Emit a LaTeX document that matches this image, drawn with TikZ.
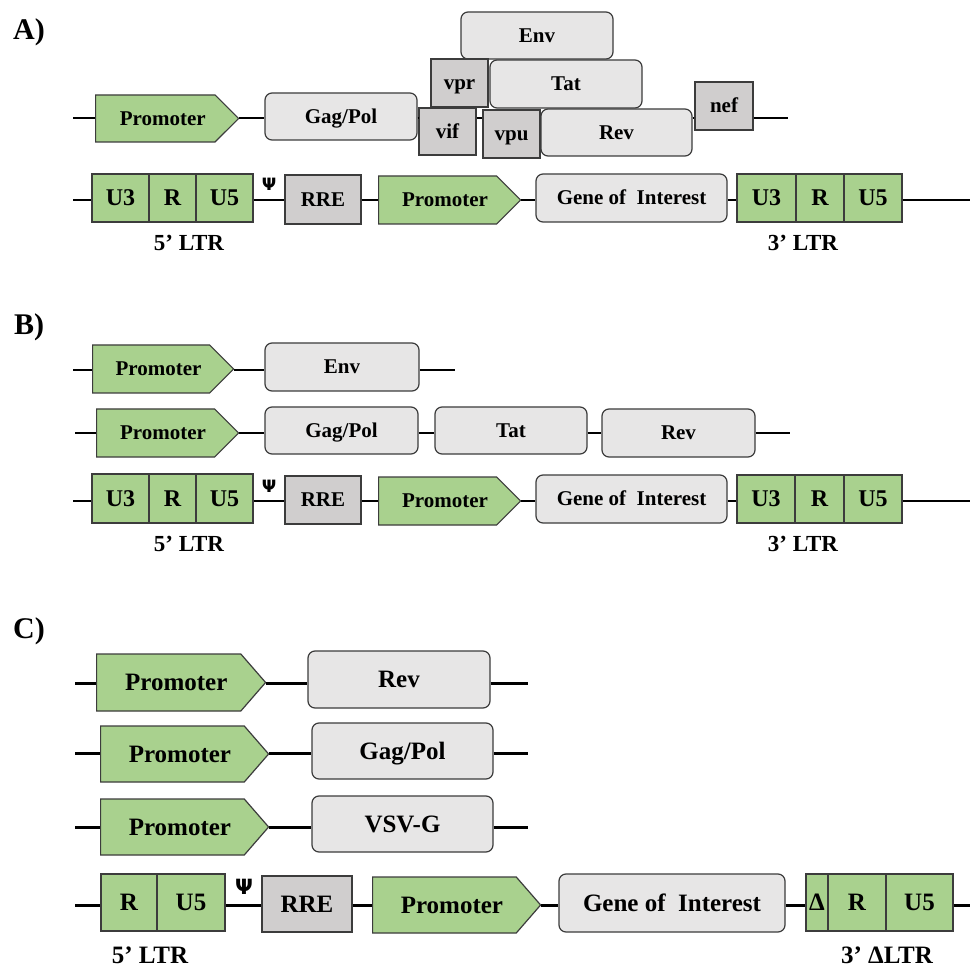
\documentclass[tikz,border=0pt]{standalone}
\usepackage{fontspec}
\setmainfont{Liberation Serif}
\newfontfamily\psifont{DejaVu Sans}
\usetikzlibrary{shapes.symbols}
\definecolor{grn}{HTML}{A9D18E}
\definecolor{lgr}{HTML}{E7E6E6}
\definecolor{dgr}{HTML}{D0CECE}
\definecolor{edgec}{HTML}{3C3C3C}
\tikzset{
  sz/.style 2 args={minimum width=#1pt, minimum height=#2pt},
  box/.style={draw=edgec, line width=1.2pt, inner sep=0pt, text height=13.9pt, text depth=0pt,
              font=\bfseries\fontsize{21}{24}\selectfont},
  gene/.style={box, fill=lgr, rounded corners=7pt},
  acc/.style={box, fill=dgr},
  ltr/.style={box, fill=grn, text height=15.8pt, font=\bfseries\fontsize{24}{26}\selectfont},
  promo/.style={box, fill=grn, signal, signal to=east, signal from=nowhere, signal pointer angle=90,
                execute at begin node={\hspace{15pt}}},
  big/.style={text height=16.5pt, font=\bfseries\fontsize{25}{28}\selectfont},
  dna/.style={line width=2.5pt, black},
  dnab/.style={line width=3pt, black},
  lab/.style={inner sep=0pt, font=\bfseries\fontsize{23}{26}\selectfont},
  labc/.style={inner sep=0pt, font=\bfseries\fontsize{25}{28}\selectfont},
  panel/.style={inner sep=0pt, font=\bfseries\fontsize{30}{32}\selectfont},
  psi/.style={inner sep=0pt, font=\psifont\bfseries\fontsize{17}{18}\selectfont},
  psic/.style={inner sep=0pt, font=\psifont\bfseries\fontsize{21}{22}\selectfont},
}
\begin{document}
\begin{tikzpicture}[x=1pt,y=-1pt]
\useasboundingbox (0,0) rectangle (970,968);
\fill[white] (0,0) rectangle (970,968);

% ---------------- Panel A ----------------
\node[panel] (labA) at (29,32) {A)};
% row 1
\coordinate (a1s) at (73,118);
\coordinate (a1e) at (788,118);
\node[promo, sz={143}{47}, anchor=west] (pA1) at (95,118.5) {Promoter};
\node[gene, sz={152}{47}] (gagA) at (341,116.5) {Gag/Pol};
\node[gene, sz={152}{47}] (envA) at (537,35.5) {Env};
\node[acc, sz={57}{48}] (vprA) at (459.5,83) {vpr};
\node[gene, sz={152}{48}] (tatA) at (566,84) {Tat};
\node[acc, sz={57}{47}] (vifA) at (447.5,131.5) {vif};
\node[acc, sz={57}{48}] (vpuA) at (511.5,134) {vpu};
\node[gene, sz={151}{47}] (revA) at (616.5,132.5) {Rev};
\node[acc, sz={58}{48}] (nefA) at (724,106) {nef};
\draw[dna] (a1s) -- (pA1.west |- a1s);
\draw[dna] (pA1.east |- a1s) -- (gagA.west |- a1s);
\draw[dna] (gagA.east |- a1s) -- (vifA.west |- a1s);
\draw[dna] (vifA.east |- a1s) -- (vpuA.west |- a1s);
\draw[dna] (revA.east |- a1s) -- (nefA.west |- a1s);
\draw[dna] (nefA.east |- a1s) -- (a1e);
% row 2
\coordinate (a2s) at (73,200);
\coordinate (a2e) at (970,200);
\node[ltr, sz={57}{48}] (u3A) at (120.5,198) {U3};
\node[ltr, sz={47}{48}] (rA) at (172.5,198) {R};
\node[ltr, sz={57}{48}] (u5A) at (224.5,198) {U5};
\node[psi] (psiA) at (269,184) {Ψ};
\node[acc, sz={76}{49}] (rreA) at (323,199.5) {RRE};
\node[promo, sz={142}{48}, anchor=west] (pA2) at (378,200) {Promoter};
\node[gene, sz={191}{48}] (goiA) at (631.5,198) {Gene of\hspace{0.25em} Interest};
\node[ltr, sz={59}{48}] (u3Ab) at (766.5,198) {U3};
\node[ltr, sz={48}{48}] (rAb) at (820,198) {R};
\node[ltr, sz={58}{48}] (u5Ab) at (873,198) {U5};
\draw[dna] (a2s) -- (u3A.west |- a2s);
\draw[dna] (u5A.east |- a2s) -- (rreA.west |- a2s);
\draw[dna] (rreA.east |- a2s) -- (pA2.west |- a2s);
\draw[dna] (pA2.east |- a2s) -- (goiA.west |- a2s);
\draw[dna] (goiA.east |- a2s) -- (u3Ab.west |- a2s);
\draw[dna] (u5Ab.east |- a2s) -- (a2e);
\node[lab] (l5A) at (189,243) {5’ LTR};
\node[lab] (l3A) at (803,243) {3’ LTR};

% ---------------- Panel B ----------------
\node[panel] (labB) at (29,327) {B)};
% row 1
\coordinate (b1s) at (73,370);
\coordinate (b1e) at (455,370);
\node[promo, sz={141}{48}, anchor=west] (pB1) at (92,369) {Promoter};
\node[gene, sz={154}{48}] (envB) at (342,367) {Env};
\draw[dna] (b1s) -- (pB1.west |- b1s);
\draw[dna] (pB1.east |- b1s) -- (envB.west |- b1s);
\draw[dna] (envB.east |- b1s) -- (b1e);
% row 2
\coordinate (b2s) at (75,433);
\coordinate (b2e) at (790,433);
\node[promo, sz={142}{48}, anchor=west] (pB2) at (96,433) {Promoter};
\node[gene, sz={153}{47}] (gagB) at (341.5,430.5) {Gag/Pol};
\node[gene, sz={152}{47}] (tatB) at (511,430.5) {Tat};
\node[gene, sz={153}{48}] (revB) at (678.5,433) {Rev};
\draw[dna] (b2s) -- (pB2.west |- b2s);
\draw[dna] (pB2.east |- b2s) -- (gagB.west |- b2s);
\draw[dna] (gagB.east |- b2s) -- (tatB.west |- b2s);
\draw[dna] (tatB.east |- b2s) -- (revB.west |- b2s);
\draw[dna] (revB.east |- b2s) -- (b2e);
% row 3
\coordinate (b3s) at (73,501);
\coordinate (b3e) at (970,501);
\node[ltr, sz={57}{49}] (u3B) at (120.5,498.5) {U3};
\node[ltr, sz={47}{49}] (rB) at (172.5,498.5) {R};
\node[ltr, sz={57}{49}] (u5B) at (224.5,498.5) {U5};
\node[psi] (psiB) at (269,486) {Ψ};
\node[acc, sz={76}{48}] (rreB) at (323,500) {RRE};
\node[promo, sz={142}{48}, anchor=west] (pB3) at (378,501) {Promoter};
\node[gene, sz={191}{48}] (goiB) at (631.5,499) {Gene of\hspace{0.25em} Interest};
\node[ltr, sz={58}{48}] (u3Bb) at (766,499) {U3};
\node[ltr, sz={49}{48}] (rBb) at (819.5,499) {R};
\node[ltr, sz={58}{48}] (u5Bb) at (873,499) {U5};
\draw[dna] (b3s) -- (u3B.west |- b3s);
\draw[dna] (u5B.east |- b3s) -- (rreB.west |- b3s);
\draw[dna] (rreB.east |- b3s) -- (pB3.west |- b3s);
\draw[dna] (pB3.east |- b3s) -- (goiB.west |- b3s);
\draw[dna] (goiB.east |- b3s) -- (u3Bb.west |- b3s);
\draw[dna] (u5Bb.east |- b3s) -- (b3e);
\node[lab] (l5B) at (189,544) {5’ LTR};
\node[lab] (l3B) at (803,544) {3’ LTR};

% ---------------- Panel C ----------------
\node[panel] (labC) at (29,631) {C)};
% row 1
\coordinate (c1s) at (75,683);
\coordinate (c1e) at (528,683);
\node[promo, big, sz={169}{57}, anchor=west, signal pointer angle=98] (pC1) at (96,682.5) {Promoter};
\node[gene, big, sz={182}{57}] (revC) at (399,679.5) {Rev};
\draw[dnab] (c1s) -- (pC1.west |- c1s);
\draw[dnab] (pC1.east |- c1s) -- (revC.west |- c1s);
\draw[dnab] (revC.east |- c1s) -- (c1e);
% row 2
\coordinate (c2s) at (75,753);
\coordinate (c2e) at (528,753);
\node[promo, big, sz={168}{56}, anchor=west, signal pointer angle=98] (pC2) at (100,754) {Promoter};
\node[gene, big, sz={181}{56}] (gagC) at (402.5,751) {Gag/Pol};
\draw[dnab] (c2s) -- (pC2.west |- c2s);
\draw[dnab] (pC2.east |- c2s) -- (gagC.west |- c2s);
\draw[dnab] (gagC.east |- c2s) -- (c2e);
% row 3
\coordinate (c3s) at (75,827);
\coordinate (c3e) at (528,827);
\node[promo, big, sz={168}{56}, anchor=west, signal pointer angle=98] (pC3) at (100,827) {Promoter};
\node[gene, big, sz={181}{56}] (vsvC) at (402.5,824) {VSV-G};
\draw[dnab] (c3s) -- (pC3.west |- c3s);
\draw[dnab] (pC3.east |- c3s) -- (vsvC.west |- c3s);
\draw[dnab] (vsvC.east |- c3s) -- (c3e);
% row 4
\coordinate (c4s) at (75,905);
\coordinate (c4e) at (970,905);
\node[ltr, big, sz={56}{57}] (rC) at (129,902.5) {R};
\node[ltr, big, sz={68}{57}] (u5C) at (191,902.5) {U5};
\node[psic] (psiC) at (244,887) {Ψ};
\node[acc, big, sz={90}{56}] (rreC) at (307,904) {RRE};
\node[promo, big, sz={168}{56}, anchor=west, signal pointer angle=98] (pC4) at (372,905) {Promoter};
\node[gene, big, sz={226}{58}] (goiC) at (672,903) {Gene of\hspace{0.25em} Interest};
\node[ltr, big, sz={22}{57}] (dC) at (817,902.5) {Δ};
\node[ltr, big, sz={58}{57}] (rCb) at (857,902.5) {R};
\node[ltr, big, sz={67}{57}] (u5Cb) at (919.5,902.5) {U5};
\draw[dnab] (c4s) -- (rC.west |- c4s);
\draw[dnab] (u5C.east |- c4s) -- (rreC.west |- c4s);
\draw[dnab] (rreC.east |- c4s) -- (pC4.west |- c4s);
\draw[dnab] (pC4.east |- c4s) -- (goiC.west |- c4s);
\draw[dnab] (goiC.east |- c4s) -- (dC.west |- c4s);
\draw[dnab] (u5Cb.east |- c4s) -- (c4e);
\node[labc] (l5C) at (150,955) {5’ LTR};
\node[labc] (l3C) at (887,955) {3’ ΔLTR};
\end{tikzpicture}
\end{document}
